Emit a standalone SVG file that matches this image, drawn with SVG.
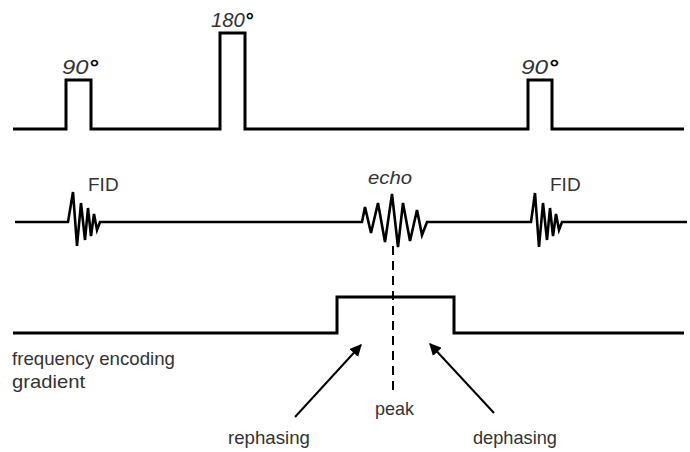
<svg xmlns="http://www.w3.org/2000/svg" width="690" height="452" viewBox="0 0 690 452">
<defs>
<style>
.ln{fill:none;stroke:#000;stroke-width:3;stroke-linejoin:miter;stroke-linecap:butt}
.wv{fill:none;stroke:#000;stroke-width:2.6;stroke-linejoin:miter}
.ar{fill:none;stroke:#000;stroke-width:2}
.dash{fill:none;stroke:#000;stroke-width:2;stroke-dasharray:9 6}
.t{font-family:"Liberation Sans","DejaVu Sans",sans-serif;fill:#333;font-size:19px}
.big{font-size:20px}
.it{font-style:italic}
.deg{font-weight:bold;fill:#000}
</style>
<marker id="ah" viewBox="0 0 10 10" refX="9" refY="5" markerWidth="6" markerHeight="6" orient="auto" markerUnits="strokeWidth">
<path d="M0,0 L10,5 L0,10 z" fill="#000"/>
</marker>
</defs>
<rect width="690" height="452" fill="#fff"/>
<g id="rf-pulses">
<path class="ln" d="M13,129 H66 V80 H91 V129 H220 V33 H245 V129 H528 V80 H552 V129 H684"/>
<text class="t it big" x="62" y="74" textLength="36" lengthAdjust="spacingAndGlyphs">90<tspan class="deg">°</tspan></text>
<text class="t it big" x="211" y="27" textLength="42" lengthAdjust="spacingAndGlyphs">180<tspan class="deg">°</tspan></text>
<text class="t it big" x="521" y="74" textLength="37" lengthAdjust="spacingAndGlyphs">90<tspan class="deg">°</tspan></text>
</g>
<g id="signal">
<path class="wv" d="M15,222 H68 L73,192 L77,246 L81,203 L85,240 L88,208 L91,236 L94,214 L97,230 L100,222 H362 L365,207 L371,233 L378,203 L385,242 L392,194 L398,247 L403,203 L410,241 L417,210 L422,235 L427,222 H531 L535,193 L539,247 L543,203 L547,240 L550,208 L553,236 L556,214 L559,230 L562,222 H687"/>
<text class="t" x="88" y="191" font-size="16">FID</text>
<text class="t it" x="368" y="184" textLength="44" lengthAdjust="spacingAndGlyphs">echo</text>
<text class="t" x="550" y="191" font-size="16">FID</text>
</g>
<g id="gradient">
<path class="ln" d="M13,333 H337 V297 H454 V333 H684"/>
<text class="t" x="12" y="365" textLength="163" lengthAdjust="spacingAndGlyphs">frequency encoding</text>
<text class="t" x="12" y="388" textLength="73" lengthAdjust="spacingAndGlyphs">gradient</text>
</g>
<g id="connectors">
<path class="dash" d="M393,246 V392"/>
<path class="ar" d="M295,417 L361,345" marker-end="url(#ah)"/>
<path class="ar" d="M494,413 L430,344" marker-end="url(#ah)"/>
</g>
<g id="labels">
<text class="t" x="375" y="415" textLength="39" lengthAdjust="spacingAndGlyphs">peak</text>
<text class="t" x="228" y="444" textLength="82" lengthAdjust="spacingAndGlyphs">rephasing</text>
<text class="t" x="473" y="444" textLength="84" lengthAdjust="spacingAndGlyphs">dephasing</text>
</g>
</svg>
